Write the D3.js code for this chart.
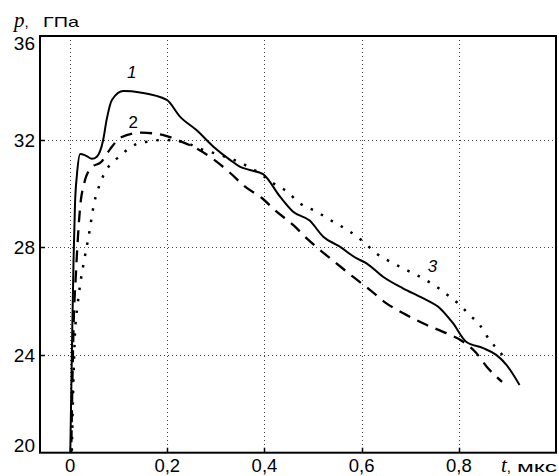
<!DOCTYPE html>
<html>
<head>
<meta charset="utf-8">
<script src="https://cdn.jsdelivr.net/npm/d3@7"></script>
<style>
  body { margin: 0; background: #fff; }
  svg { display: block; }
  text { font-family: 'Liberation Sans', Arial, sans-serif; fill: #000; }
</style>
</head>
<body>
<svg id="chart" width="559" height="476"></svg>
<script>
// curve 1 (solid) : [t, p]
const curve1 = [
  [0.0, 20.0], [0.004, 24.5], [0.007, 27.5], [0.010, 29.6], [0.014, 30.7], [0.021, 31.48],
  [0.032, 31.42], [0.045, 31.3], [0.055, 31.38], [0.068, 32.0], [0.075, 32.74],
  [0.086, 33.49], [0.110, 33.82], [0.144, 33.77], [0.199, 33.49], [0.226, 32.87],
  [0.260, 32.37], [0.295, 31.75], [0.329, 31.26], [0.349, 31.01], [0.370, 30.88],
  [0.397, 30.73], [0.432, 29.89], [0.459, 29.33], [0.493, 29.0], [0.521, 28.4],
  [0.555, 28.03], [0.589, 27.6], [0.610, 27.41], [0.644, 26.91], [0.685, 26.48],
  [0.726, 26.11], [0.761, 25.74], [0.788, 25.18], [0.815, 24.49], [0.850, 24.25],
  [0.877, 24.0], [0.898, 23.63], [0.925, 22.88]
]
// curve 2 (dashed)
const curve2 = [
  [0.002, 20.0], [0.007, 25.0], [0.012, 27.04], [0.021, 29.58], [0.029, 30.39],
  [0.043, 30.95], [0.065, 31.2], [0.082, 31.65], [0.105, 32.1], [0.147, 32.27],
  [0.188, 32.2], [0.226, 31.96], [0.253, 31.75], [0.295, 31.28], [0.329, 30.78],
  [0.360, 30.26], [0.394, 29.85], [0.425, 29.33], [0.459, 28.84], [0.487, 28.34],
  [0.514, 27.91], [0.548, 27.41], [0.582, 26.91], [0.617, 26.42], [0.651, 25.92],
  [0.692, 25.49], [0.733, 25.12], [0.774, 24.81], [0.808, 24.5], [0.836, 24.07],
  [0.857, 23.57], [0.889, 23.0]
]
// curve 3 (dotted)
const curve3 = [
  [0.003, 20.0], [0.006, 22.5], [0.010, 24.8], [0.015, 25.8], [0.021, 26.67],
  [0.029, 27.53], [0.038, 28.4], [0.050, 29.7], [0.060, 30.3], [0.075, 30.9],
  [0.090, 31.2], [0.113, 31.57], [0.137, 31.85], [0.161, 31.94], [0.190, 32.0],
  [0.230, 31.94], [0.271, 31.65], [0.298, 31.5], [0.346, 31.19], [0.390, 30.76],
  [0.418, 30.39], [0.445, 30.1], [0.473, 29.64], [0.507, 29.33], [0.541, 28.96],
  [0.576, 28.59], [0.603, 28.22], [0.630, 27.78], [0.665, 27.41], [0.699, 27.1],
  [0.726, 26.85], [0.754, 26.54], [0.781, 26.17], [0.802, 25.86], [0.822, 25.49],
  [0.843, 25.12], [0.863, 24.56], [0.884, 24.12], [0.901, 23.75]
]
const xTicks = [0, 0.2, 0.4, 0.6, 0.8]
const xTickLabels = ['0', '0,2', '0,4', '0,6', '0,8']
const yTicks = [20, 24, 28, 32, 36]
const yTickLabels = ['20', '24', '28', '32', '36']
const curveLabels = [
  { text: '1', t: 0.127, p: 34.3, italic: true },
  { text: '2', t: 0.130, p: 32.45, italic: false },
  { text: '3', t: 0.746, p: 27.1, italic: true }
]

const svg = d3.select('#chart')
const plotLeft = 40, plotRight = 556, plotTop = 36, plotBottom = 452.7

const x = d3.scaleLinear().domain([-0.062, 1.0]).range([plotLeft, plotRight])
const y = d3.scaleLinear().domain([20.36, 35.87]).range([plotBottom, plotTop])

svg.append('defs').append('clipPath').attr('id', 'plot')
  .append('rect')
  .attr('x', plotLeft).attr('y', plotTop)
  .attr('width', plotRight - plotLeft).attr('height', plotBottom - plotTop)

const innerY = yTicks.filter(d => y(d) > plotTop + 2 && y(d) < plotBottom - 2)

// grid
const grid = svg.append('g')
  .attr('stroke', '#444')
  .attr('stroke-width', 1)
  .attr('stroke-dasharray', '1,3')
grid.selectAll('.gx')
  .data(xTicks)
  .join('line')
  .attr('x1', d => Math.round(x(d)) + 0.5)
  .attr('x2', d => Math.round(x(d)) + 0.5)
  .attr('y1', plotTop)
  .attr('y2', plotBottom)
grid.selectAll('.gy')
  .data(innerY)
  .join('line')
  .attr('x1', plotLeft)
  .attr('x2', plotRight)
  .attr('y1', d => Math.round(y(d)) + 0.5)
  .attr('y2', d => Math.round(y(d)) + 0.5)

// ticks (inward)
const ticks = svg.append('g').attr('stroke', '#000').attr('stroke-width', 1.5)
ticks.selectAll('.tx')
  .data(xTicks)
  .join('line')
  .attr('x1', d => Math.round(x(d)) + 0.5)
  .attr('x2', d => Math.round(x(d)) + 0.5)
  .attr('y1', plotBottom)
  .attr('y2', plotBottom - 5)
ticks.selectAll('.ty')
  .data(innerY)
  .join('line')
  .attr('x1', plotLeft)
  .attr('x2', plotLeft + 5)
  .attr('y1', d => Math.round(y(d)) + 0.5)
  .attr('y2', d => Math.round(y(d)) + 0.5)

// curves
const line = d3.line()
  .curve(d3.curveMonotoneX)
  .x(d => x(d[0]))
  .y(d => y(d[1]))

const plot = svg.append('g').attr('clip-path', 'url(#plot)')
plot.append('path')
  .datum(curve3)
  .attr('fill', 'none')
  .attr('stroke', '#000')
  .attr('stroke-width', 2.5)
  .attr('stroke-dasharray', '2.5,9')
  .attr('d', line)
plot.append('path')
  .datum(curve2)
  .attr('fill', 'none')
  .attr('stroke', '#000')
  .attr('stroke-width', 2.3)
  .attr('stroke-dasharray', '12,8')
  .attr('d', line)
plot.append('path')
  .datum(curve1)
  .attr('fill', 'none')
  .attr('stroke', '#000')
  .attr('stroke-width', 2)
  .attr('d', line)

// frame
svg.append('rect')
  .attr('x', plotLeft).attr('y', plotTop)
  .attr('width', plotRight - plotLeft).attr('height', plotBottom - plotTop)
  .attr('fill', 'none')
  .attr('stroke', '#000')
  .attr('stroke-width', 2)

// tick labels
svg.append('g')
  .selectAll('text')
  .data(xTicks)
  .join('text')
  .attr('x', d => x(d))
  .attr('y', 472)
  .attr('text-anchor', 'middle')
  .style('font-size', '18.5px')
  .text((d, i) => xTickLabels[i])

svg.append('g')
  .selectAll('text')
  .data(yTicks)
  .join('text')
  .attr('x', 35)
  .attr('y', d => Math.min(Math.max(y(d), plotTop + 7), plotBottom - 7))
  .attr('dy', '0.35em')
  .attr('text-anchor', 'end')
  .style('font-size', '19px')
  .text((d, i) => yTickLabels[i])

// curve labels
svg.append('g')
  .selectAll('text')
  .data(curveLabels)
  .join('text')
  .attr('x', d => x(d.t))
  .attr('y', d => y(d.p))
  .attr('text-anchor', 'middle')
  .style('font-size', '17px')
  .style('font-style', d => d.italic ? 'italic' : 'normal')
  .text(d => d.text)

// axis titles
const yTitle = svg.append('text').attr('x', 14).attr('y', 27)
yTitle.append('tspan')
  .style('font-family', "'Liberation Serif', 'DejaVu Serif', serif")
  .style('font-style', 'italic')
  .style('font-size', '21px')
  .text('p')
yTitle.append('tspan')
  .style('font-size', '15px')
  .text(',')
svg.append('text')
  .attr('x', 43).attr('y', 27)
  .attr('textLength', 36)
  .attr('lengthAdjust', 'spacingAndGlyphs')
  .style('font-size', '14.5px')
  .text('ГПа')

const xTitle = svg.append('text').attr('x', 501).attr('y', 472)
xTitle.append('tspan')
  .style('font-family', "'Liberation Serif', 'DejaVu Serif', serif")
  .style('font-style', 'italic')
  .style('font-size', '21px')
  .text('t')
xTitle.append('tspan')
  .style('font-size', '15px')
  .text(',')
svg.append('text')
  .attr('x', 517).attr('y', 472)
  .attr('textLength', 40)
  .attr('lengthAdjust', 'spacingAndGlyphs')
  .style('font-size', '14.5px')
  .text('мкс')
</script>
</body>
</html>
